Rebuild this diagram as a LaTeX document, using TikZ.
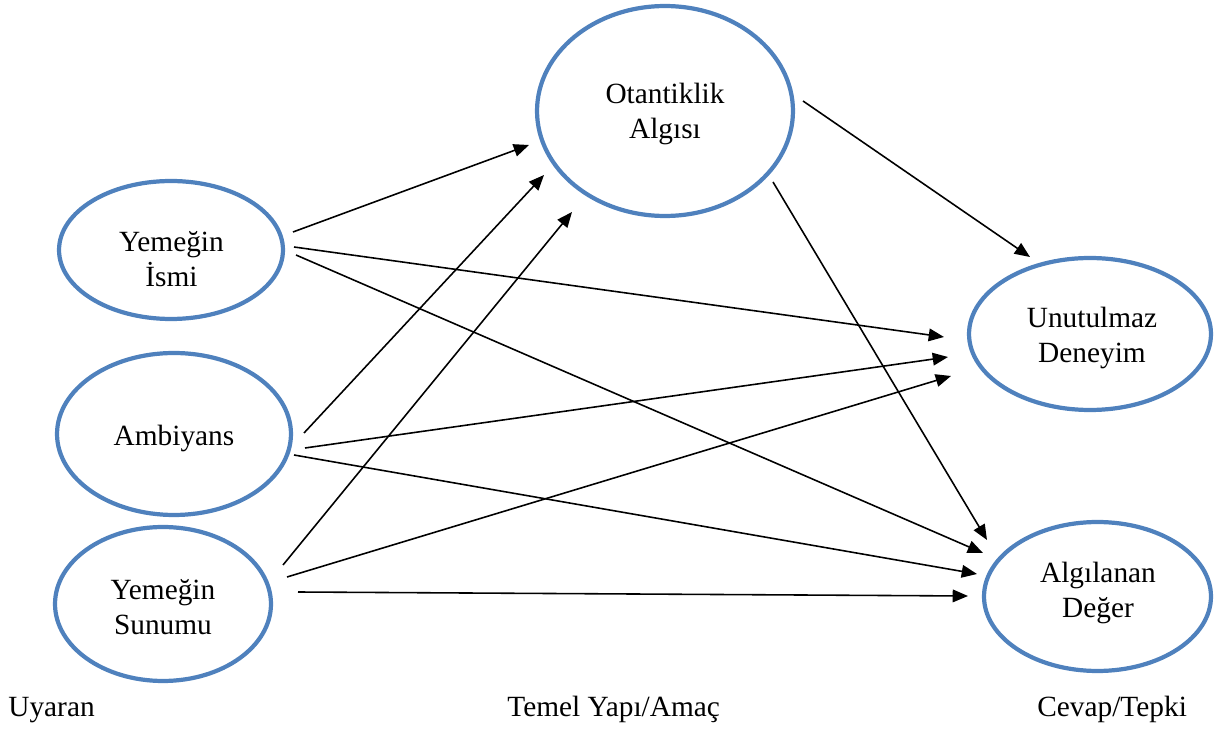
\documentclass[tikz,border=0pt]{standalone}
\usepackage{fontspec}
\setmainfont{Liberation Serif}
\usetikzlibrary{shapes.geometric,arrows.meta}
\definecolor{ovalblue}{RGB}{79,129,189}
\tikzset{
  oval/.style={ellipse, draw=ovalblue, line width=2.4pt, inner sep=0pt},
  lbl/.style={align=center, inner sep=0pt, font=\fontsize{16.7pt}{19.8pt}\selectfont},
  foot/.style={anchor=base west, inner sep=0pt, font=\fontsize{16.7pt}{19.8pt}\selectfont},
  arr/.style={line width=0.9pt, -{Triangle[length=8.7pt,width=7.2pt]}}
}
\begin{document}
\begin{tikzpicture}[x=0.02cm,y=-0.02cm]
\useasboundingbox (0,0) rectangle (1215,729);
% ovals
\node[oval, minimum width=5.12cm, minimum height=4.2cm] (oa) at (665,111) {};
\node[oval, minimum width=4.48cm, minimum height=2.76cm] (yi) at (171,250) {};
\node[oval, minimum width=4.68cm, minimum height=3.24cm] (am) at (174,434) {};
\node[oval, minimum width=4.32cm, minimum height=3.08cm] (ys) at (163,604) {};
\node[oval, minimum width=4.84cm, minimum height=3.04cm] (ud) at (1090,334) {};
\node[oval, minimum width=4.54cm, minimum height=2.98cm] (ad) at (1097.5,596.5) {};
% labels
\node[lbl] (toa) at (665,113.7) {Otantiklik\\Algısı};
\node[lbl] (tyi) at (171.5,258.8) {Yemeğin\\İsmi};
\node[lbl] (tam) at (174,438) {Ambiyans};
\node[lbl] (tys) at (163,607.3) {Yemeğin\\Sunumu};
\node[lbl] (tud) at (1092,338.2) {Unutulmaz\\Deneyim};
\node[lbl] (tad) at (1098,593.2) {Algılanan\\Değer};
% footer
\node[foot] (f1) at (8,716.7) {Uyaran};
\node[foot] (f2) at (507,716.7) {Temel Yapı/Amaç};
\node[foot] (f3) at (1037,716.7) {Cevap/Tepki};
% arrow end points
\coordinate (s1) at (293,232);  \coordinate (e1) at (529,145);
\coordinate (s2) at (304,433);  \coordinate (e2) at (544,175);
\coordinate (s3) at (283,565);  \coordinate (e3) at (572,212);
\coordinate (s4) at (294,247);  \coordinate (e4) at (944,337);
\coordinate (s5) at (305,448);  \coordinate (e5) at (948,357);
\coordinate (s6) at (287,577);  \coordinate (e6) at (951,376);
\coordinate (s7) at (296,255);  \coordinate (e7) at (983,553);
\coordinate (s8) at (294,455);  \coordinate (e8) at (977,574);
\coordinate (s9) at (298,592);  \coordinate (e9) at (968,596);
\coordinate (s10) at (803,101); \coordinate (e10) at (1030,257);
\coordinate (s11) at (773,182); \coordinate (e11) at (987,540);
% arrows
\draw[arr] (s1) -- (e1);
\draw[arr] (s2) -- (e2);
\draw[arr] (s3) -- (e3);
\draw[arr] (s4) -- (e4);
\draw[arr] (s5) -- (e5);
\draw[arr] (s6) -- (e6);
\draw[arr] (s7) -- (e7);
\draw[arr] (s8) -- (e8);
\draw[arr] (s9) -- (e9);
\draw[arr] (s10) -- (e10);
\draw[arr] (s11) -- (e11);
\end{tikzpicture}
\end{document}
